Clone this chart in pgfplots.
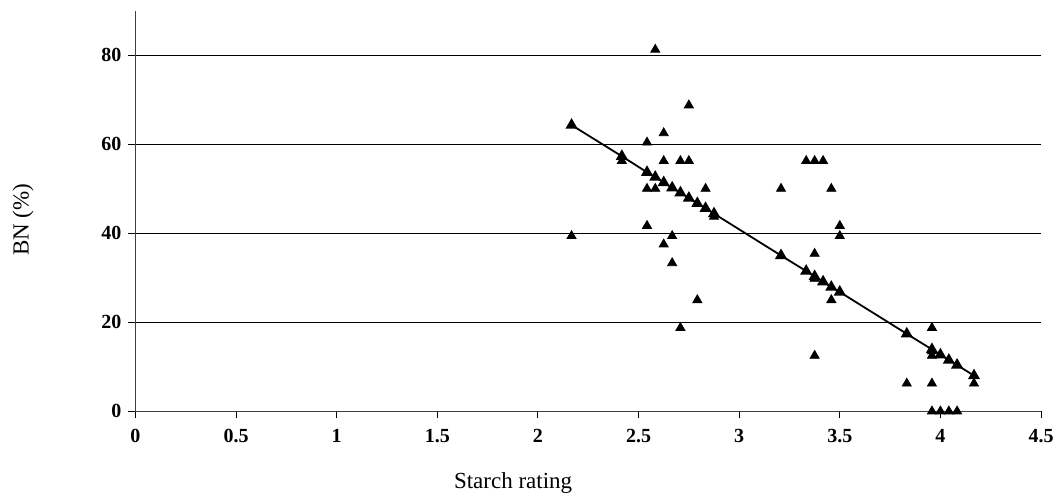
\documentclass[border=0pt]{standalone}
\usepackage{pgfplots}
\pgfplotsset{compat=1.18}
\usepackage{fontspec}
\setmainfont{Liberation Serif}

% observed BN values against starch rating
\pgfplotstableread{
x y
2.167 39.4
2.417 56.25
2.542 60.4
2.542 50
2.542 41.67
2.583 81.25
2.583 50
2.625 62.5
2.625 56.25
2.625 37.5
2.667 39.4
2.667 33.3
2.708 56.25
2.708 18.75
2.750 68.75
2.750 56.25
2.792 25
2.833 50
2.875 43.75
3.208 50
3.208 35
3.333 56.25
3.375 56.25
3.375 35.4
3.375 29.8
3.375 12.5
3.417 56.25
3.458 50
3.458 25
3.500 41.67
3.500 39.4
3.833 6.25
3.958 18.75
3.958 13.5
3.958 12.5
3.958 6.25
3.958 0
4.000 0
4.042 0
4.083 0
4.167 6.25
}\observed

% fitted values
\pgfplotstableread{
x y
2.167 64.3
2.417 57.3
2.542 53.7
2.583 52.6
2.625 51.4
2.667 50.2
2.708 49.1
2.750 47.9
2.792 46.7
2.833 45.6
2.875 44.4
3.208 35.0
3.333 31.5
3.375 30.3
3.417 29.1
3.458 27.9
3.500 26.8
3.833 17.4
3.958 13.9
4.000 12.7
4.042 11.5
4.083 10.4
4.167 8.0
}\fitted

\begin{document}
\begin{tikzpicture}
\begin{axis}[
  scale only axis,
  width=452.75pt,
  height=200.3pt,
  xmin=0, xmax=4.5,
  ymin=0, ymax=90,
  axis lines*=left,
  axis line style={black!75, line width=0.6pt},
  xtick={0,0.5,1,1.5,2,2.5,3,3.5,4,4.5},
  xticklabels={0,0.5,1,1.5,2,2.5,3,3.5,4,4.5},
  ytick={0,20,40,60,80},
  yticklabels={0,20,40,60,80},
  tick align=outside,
  major tick length=3.5pt,
  tick style={black, line width=0.5pt},
  ticklabel style={font=\bfseries\fontsize{10}{12}\selectfont},
  xticklabel style={yshift=-2pt},
  ymajorgrids,
  grid style={black, line width=0.5pt},
  xlabel={Starch rating},
  ylabel={BN (\%)},
  label style={font=\fontsize{11.5}{13}\selectfont},
  xlabel style={at={(rel axis cs:0.417,-0.179)}, anchor=center},
  ylabel style={at={(rel axis cs:-0.1242,0.478)}, anchor=center},
  clip=false,
]
\addplot[only marks, mark=triangle*, mark size=2.6pt, black] table {\observed};
\addplot[black, line width=0.9pt, mark=triangle*, mark size=2.6pt] table {\fitted};
\coordinate (sw) at (rel axis cs:0,0);
\coordinate (ne) at (rel axis cs:1,1);
\end{axis}
\pgfresetboundingbox
\path ([shift={(-67.75pt,-45.35pt)}]sw) rectangle ([shift={(8.5pt,5.35pt)}]ne);
\end{tikzpicture}
\end{document}
